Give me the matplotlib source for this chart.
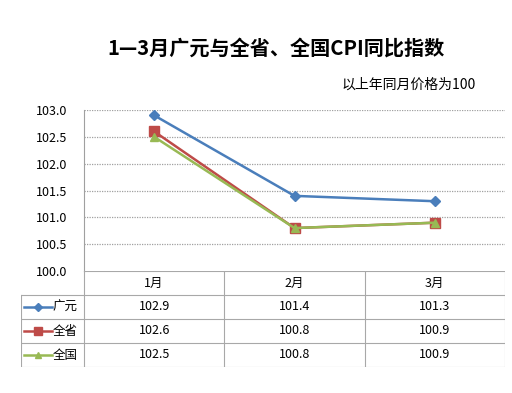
import matplotlib
matplotlib.use("Agg")
import matplotlib.pyplot as plt

plt.rcParams["font.family"] = ["Noto Sans CJK SC", "DejaVu Sans"]

months = ["1月", "2月", "3月"]
series_names = ["广元", "全省", "全国"]
guangyuan = [102.9, 101.4, 101.3]
quansheng = [102.6, 100.8, 100.9]
quanguo = [102.5, 100.8, 100.9]
yticks = [100.0, 100.5, 101.0, 101.5, 102.0, 102.5, 103.0]

colors = ["#4A7EBB", "#BE4B48", "#98B954"]
markers = ["D", "s", "^"]
msizes = [5, 7, 6]
values = [guangyuan, quansheng, quanguo]

W, H = 512, 393
fig = plt.figure(figsize=(W / 100, H / 100), dpi=100)

px_l, px_r, px_t, px_b = 84, 505, 110, 271
ax = fig.add_axes([px_l / W, 1 - px_b / H, (px_r - px_l) / W, (px_b - px_t) / H])
x = list(range(len(months)))
for v, c, m, s in zip(values, colors, markers, msizes):
    ax.plot(x, v, color=c, lw=1.8, marker=m, ms=s, mec=c, mfc=c, zorder=3)
ax.set_xlim(-0.5, 2.5)
ax.set_ylim(100.0, 103.0)
ax.set_yticks(yticks)
ax.set_yticklabels([f"{t:.1f}" for t in yticks], fontsize=9)
ax.set_xticks([])
ax.tick_params(axis="y", length=0, pad=12)
for t in yticks[1:]:
    ax.axhline(t, color="#A0A0A0", lw=0.9, ls=(0, (1, 1)), zorder=1)
for sp in ["top", "right", "bottom"]:
    ax.spines[sp].set_visible(False)
ax.spines["left"].set_color("#A0A0A0")
ax.spines["left"].set_linewidth(0.8)

# data table
tl, tr, tt, tb = 21, 505, 271, 367
tax = fig.add_axes([tl / W, 1 - tb / H, (tr - tl) / W, (tb - tt) / H])
unit = (px_r - px_l) / 3
x0 = -0.5 - (px_l - tl) / unit
tax.set_xlim(x0, 2.5)
tax.set_ylim(4, 0)
tax.axis("off")
gc = "#A8A8A8"
lw = 0.8
tax.plot([-0.5, 2.5], [0, 0], color=gc, lw=lw)
for yy in [1, 2, 3, 4]:
    tax.plot([x0, 2.5], [yy, yy], color=gc, lw=lw)
tax.plot([x0, x0], [1, 4], color=gc, lw=lw)
for xx in [-0.5, 0.5, 1.5, 2.5]:
    tax.plot([xx, xx], [0, 4], color=gc, lw=lw)
for i, mth in enumerate(months):
    tax.text(i, 0.5, mth, ha="center", va="center", fontsize=9)
lx1 = x0 + 3 / unit
lx2 = x0 + 31 / unit
for r, (name, v, c, m, s) in enumerate(zip(series_names, values, colors, markers, msizes)):
    yy = r + 1.5
    tax.plot([lx1, lx2], [yy, yy], color=c, lw=1.8)
    tax.plot([(lx1 + lx2) / 2], [yy], color=c, marker=m, ms=s - 1, mec=c, mfc=c)
    tax.text(lx2 + 1 / unit, yy, name, ha="left", va="center", fontsize=9)
    for i, val in enumerate(v):
        tax.text(i, yy, f"{val:.1f}", ha="center", va="center", fontsize=9)

fig.text(0.54, 1 - 48 / H, "1—3月广元与全省、全国CPI同比指数", ha="center", va="center",
         fontsize=14.5, fontweight="bold")
fig.text(476 / W, 1 - 85 / H, "以上年同月价格为100", ha="right", va="center", fontsize=10)

fig.savefig("out.png", dpi=100, facecolor="white")
